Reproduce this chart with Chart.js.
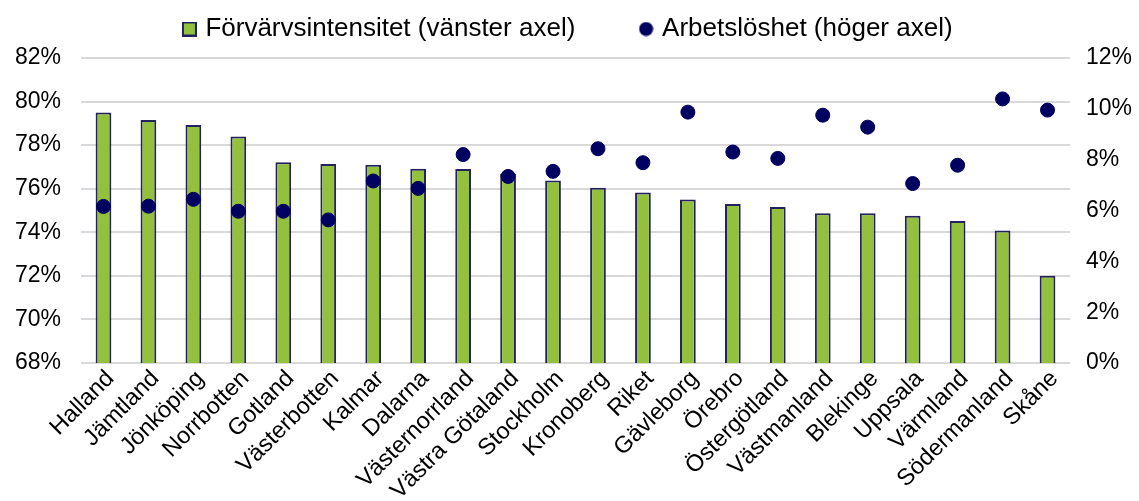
<!DOCTYPE html>
<html>
<head>
<meta charset="utf-8">
<script src="https://cdn.jsdelivr.net/npm/chart.js@4"></script>
<style>
  html, body { margin: 0; padding: 0; background: #fff; }
  #wrap { width: 1139px; height: 501px; }
</style>
</head>
<body>
<div id="wrap"><canvas id="grafico" width="1139" height="501"></canvas></div>
<script>
// Län (sorterade efter förvärvsintensitet)
const lan = ['Halland', 'Jämtland', 'Jönköping', 'Norrbotten', 'Gotland', 'Västerbotten', 'Kalmar',
  'Dalarna', 'Västernorrland', 'Västra Götaland', 'Stockholm', 'Kronoberg', 'Riket', 'Gävleborg',
  'Örebro', 'Östergötland', 'Västmanland', 'Blekinge', 'Uppsala', 'Värmland', 'Södermanland', 'Skåne'];
// Förvärvsintensitet, %, vänster axel
const forvarvsintensitet = [79.5, 79.15, 78.93, 78.4, 77.22, 77.14, 77.1, 76.92, 76.9, 76.68, 76.38,
  76.05, 75.83, 75.5, 75.3, 75.16, 74.87, 74.87, 74.76, 74.52, 74.08, 72.0];
// Arbetslöshet, %, höger axel
const arbetsloshet = [6.16, 6.17, 6.44, 5.97, 5.97, 5.63, 7.16, 6.87, 8.2, 7.34, 7.54,
  8.43, 7.88, 9.87, 8.3, 8.05, 9.75, 9.28, 7.06, 7.78, 10.39, 9.95];
// Axlar
const vansterTicks = [68, 82, 2];
const hogerTicks = [0, 12, 2];

const gron = '#93C13D';
const kant = '#22225C';
const mork = '#000060';

// små ikoner till legenden
function ikon(typ) {
  const c = document.createElement('canvas');
  const g = c.getContext('2d');
  if (typ === 'rect') {
    c.width = 15; c.height = 15;
    g.fillStyle = gron; g.fillRect(0, 0, 15, 15);
    g.strokeStyle = kant; g.lineWidth = 2; g.strokeRect(1, 1, 13, 13);
  } else {
    c.width = 15; c.height = 15;
    g.fillStyle = mork; g.beginPath(); g.arc(7.5, 7.5, 7, 0, Math.PI * 2); g.fill();
  }
  return c;
}
const ikoner = [ikon('rect'), ikon('circle')];

Chart.defaults.font.family = '"Liberation Sans", Arial, sans-serif';
Chart.defaults.color = '#000';

const ctx = document.getElementById('grafico').getContext('2d');
new Chart(ctx, {
  data: {
    labels: lan,
    datasets: [
      {
        type: 'line',
        label: 'Arbetslöshet (höger axel)',
        data: arbetsloshet,
        yAxisID: 'y1',
        showLine: false,
        pointRadius: 7,
        pointHoverRadius: 7,
        pointBackgroundColor: mork,
        pointBorderColor: mork,
        borderColor: mork,
        backgroundColor: mork,
        order: 0
      },
      {
        type: 'bar',
        label: 'Förvärvsintensitet (vänster axel)',
        data: forvarvsintensitet,
        yAxisID: 'y',
        backgroundColor: gron,
        borderColor: kant,
        borderWidth: 2,
        barPercentage: 0.35,
        categoryPercentage: 1.0,
        order: 1
      }
    ]
  },
  options: {
    responsive: false,
    animation: false,
    layout: { padding: { top: 6, left: 0, right: 0, bottom: 0 } },
    scales: {
      x: {
        grid: { display: false },
        border: { display: false },
        ticks: {
          minRotation: 45, maxRotation: 45, autoSkip: false,
          font: { size: 23.5 }, padding: -6, labelOffset: 7
        },
        afterFit: (s) => { s.height = 138; }
      },
      y: {
        position: 'left',
        min: vansterTicks[0], max: vansterTicks[1],
        ticks: { stepSize: vansterTicks[2], font: { size: 23 }, padding: 20, callback: v => v + '%' },
        grid: { color: '#D9D9D9', lineWidth: 2, drawTicks: false },
        border: { display: false },
        afterFit: (s) => { s.width = 81; }
      },
      y1: {
        position: 'right',
        min: hogerTicks[0], max: hogerTicks[1],
        ticks: { stepSize: hogerTicks[2], font: { size: 23 }, padding: 16, callback: v => v + '%' },
        grid: { display: false, drawTicks: false },
        border: { display: false },
        afterFit: (s) => { s.width = 69; }
      }
    },
    plugins: {
      legend: {
        position: 'top',
        reverse: true,
        labels: {
          usePointStyle: true,
          boxWidth: 6, boxHeight: 14,
          padding: 10,
          font: { size: 26 },
          generateLabels: (chart) => {
            const items = Chart.defaults.plugins.legend.labels.generateLabels(chart);
            items.forEach(it => {
              it.pointStyle = it.datasetIndex === 1 ? ikoner[0] : ikoner[1];
              if (it.datasetIndex === 1) it.text = it.text + '\u00a0\u00a0\u00a0\u00a0\u00a0\u00a0\u00a0\u00a0';
            });
            return items;
          }
        }
      },
      // tomt utrymme mellan legend och diagram
      subtitle: { display: true, text: '', position: 'top', weight: 500, padding: 0, font: { size: 5 } },
      tooltip: { enabled: false }
    }
  }
});
</script>
</body>
</html>
